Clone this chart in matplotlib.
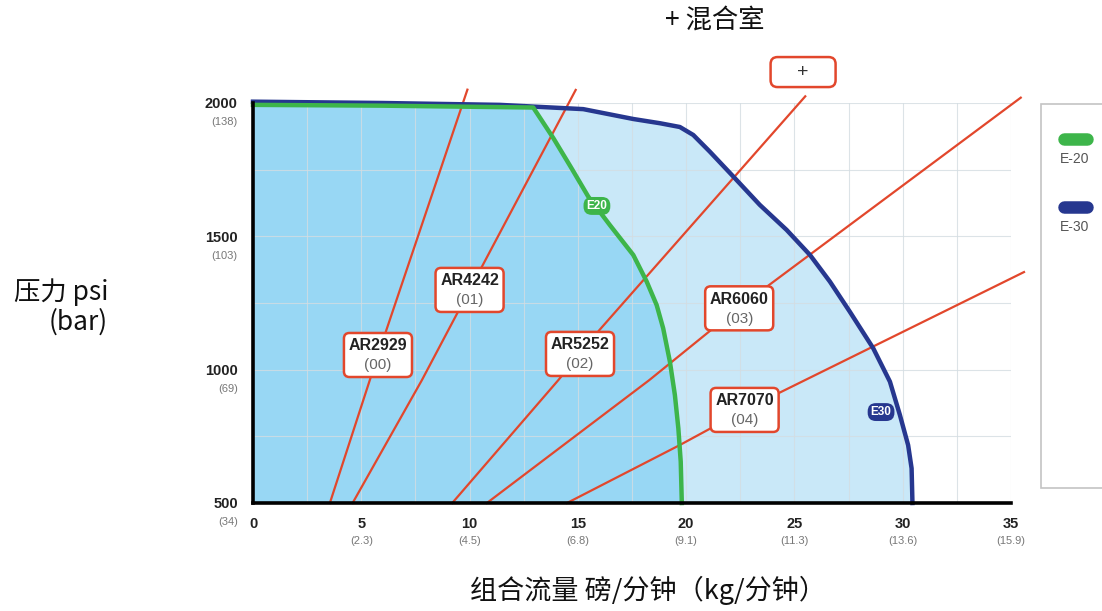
import matplotlib
matplotlib.use("Agg")
import matplotlib.pyplot as plt
import numpy as np
from matplotlib.lines import Line2D
from matplotlib.patches import FancyBboxPatch
import matplotlib.transforms as mtransforms

plt.rcParams['font.family'] = ['Liberation Sans', 'DejaVu Sans']
cjk = ['Noto Sans CJK SC', 'DejaVu Sans']

# pump curves (flow lb/min, pressure psi)
e20_x = [0, 6, 12.94, 13.87, 14.71, 15.48, 16.48, 17.56, 18.18, 18.64, 18.94, 19.25,
         19.48, 19.64, 19.75, 19.8]
e20_y = [1993, 1990, 1983, 1868, 1755, 1649, 1542, 1430, 1330, 1242, 1155, 1030,
         905, 780, 655, 500]
e30_x = [0, 6, 11.4, 15.25, 17.56, 18.8, 19.71, 20.33, 21.1, 22.25, 23.4, 24.64, 25.72,
         26.64, 27.56, 28.64, 29.41, 29.87, 30.25, 30.41, 30.45]
e30_y = [2005, 2000, 1993, 1977, 1940, 1924, 1910, 1880, 1817, 1718, 1618, 1524, 1430,
         1330, 1217, 1080, 955, 830, 717, 630, 500]

# mixing chamber lines
ar2929_x = [3.55, 5.77, 9.9]
ar2929_y = [500, 1055, 2050]
ar4242_x = [4.6, 7.8, 10.0, 14.9]
ar4242_y = [500, 961, 1299, 2049]
ar5252_x = [9.2, 14.1, 16.0, 25.5]
ar5252_y = [500, 961, 1149, 2025]
ar6060_x = [10.8, 18.3, 22.4, 35.45]
ar6060_y = [500, 961, 1231, 2020]
ar7070_x = [14.5, 19.7, 22.7, 35.6]
ar7070_y = [500, 717, 849, 1366]

labels = ['AR2929', 'AR4242', 'AR5252', 'AR6060', 'AR7070']
codes = ['(00)', '(01)', '(02)', '(03)', '(04)']
label_x = [5.77, 10.0, 15.1, 22.45, 22.7]
label_y = [1055, 1299, 1059, 1230, 849]
plus_x, plus_y = 25.4, 2116

xticks = [0, 5, 10, 15, 20, 25, 30, 35]
xticks_kg = ['', '(2.3)', '(4.5)', '(6.8)', '(9.1)', '(11.3)', '(13.6)', '(15.9)']
yticks = [500, 1000, 1500, 2000]
yticks_bar = ['(34)', '(69)', '(103)', '(138)']

green = '#3db54a'
blue = '#26378f'
red = '#e2472c'
dark_fill = '#98d7f4'
light_fill = '#c9e8f8'

fig = plt.figure(figsize=(11.02, 6.11), dpi=100)
ax = fig.add_axes([253 / 1102, 1 - 503 / 611, 758 / 1102, 400 / 611])
ax.set_xlim(0, 35)
ax.set_ylim(500, 2000)

# fills
ax.fill(e30_x + [e30_x[-1], 0], e30_y + [500, 500], color=light_fill, lw=0, zorder=0.5)
ax.fill(e20_x + [e20_x[-1], 0], e20_y + [500, 500], color=dark_fill, lw=0, zorder=0.6)

ax.plot(e30_x, e30_y, color=blue, lw=3.2, clip_on=False, zorder=4, solid_joinstyle='round')
ax.plot(e20_x, e20_y, color=green, lw=3.2, clip_on=False, zorder=4, solid_joinstyle='round')

for lx, ly in [(ar2929_x, ar2929_y), (ar4242_x, ar4242_y), (ar5252_x, ar5252_y),
               (ar6060_x, ar6060_y), (ar7070_x, ar7070_y)]:
    ax.plot(lx, ly, color=red, lw=1.6, clip_on=False, zorder=3)


def box_at(x, y, w, h, r):
    # rounded box sized in points, centred on a data point
    tr = mtransforms.Affine2D().scale(fig.dpi / 72) + mtransforms.ScaledTranslation(x, y, ax.transData)
    p = FancyBboxPatch((-w / 2, -h / 2), w, h, boxstyle='round,pad=0,rounding_size=%g' % r,
                       fc='white', ec=red, lw=1.8, transform=tr, clip_on=False, zorder=5)
    ax.add_patch(p)


for name, code, x, y in zip(labels, codes, label_x, label_y):
    box_at(x, y, 49, 31.7, 4)
    ax.annotate(name, (x, y), xytext=(0, 6.5), textcoords='offset points', ha='center',
                va='center', fontsize=11.5, fontweight='bold', color='#222222', zorder=6)
    ax.annotate(code, (x, y), xytext=(0, -7.5), textcoords='offset points', ha='center',
                va='center', fontsize=11, color='#666666', zorder=6)

box_at(plus_x, plus_y, 46.8, 21.6, 5)
ax.text(plus_x, plus_y, '+', fontsize=14, ha='center', va='center', color='#333333',
        clip_on=False, zorder=6)

# curve tags
ax.text(15.88, 1614, 'E20', fontsize=8.5, fontweight='bold', color='white', ha='center',
        va='center', zorder=6,
        bbox=dict(boxstyle='round,pad=0.25,rounding_size=0.7', fc=green, ec='none'))
ax.text(29.0, 841, 'E30', fontsize=8.5, fontweight='bold', color='white', ha='center',
        va='center', zorder=6,
        bbox=dict(boxstyle='round,pad=0.25,rounding_size=0.7', fc=blue, ec='none'))

# spines, ticks, grid
for s in ['top', 'right']:
    ax.spines[s].set_visible(False)
for s in ['left', 'bottom']:
    ax.spines[s].set_linewidth(2.6)
    ax.spines[s].set_zorder(5)

ax.set_xticks(xticks)
ax.set_xticklabels([str(t) for t in xticks], fontweight='bold', fontsize=10.5, color='#222222')
ax.set_xticks(np.arange(0, 35.1, 2.5), minor=True)
ax.set_yticks(yticks)
ax.set_yticklabels([str(t) for t in yticks], fontweight='bold', fontsize=10.5, color='#222222')
ax.set_yticks(np.arange(500, 2001, 250), minor=True)
ax.grid(True, which='both', color='#d4dde2', lw=0.8, alpha=0.8)
ax.tick_params(axis='x', pad=10, which='both', length=0)
ax.tick_params(axis='y', pad=11, which='both', length=0)

xt = mtransforms.blended_transform_factory(ax.transData, ax.transAxes)
for t, s in zip(xticks, xticks_kg):
    ax.annotate(s, (t, 0), xycoords=xt, xytext=(0, -27.5), textcoords='offset points',
                ha='center', va='center', fontsize=8, color='#777777')
yt = mtransforms.blended_transform_factory(ax.transAxes, ax.transData)
for t, s in zip(yticks, yticks_bar):
    ax.annotate(s, (0, t), xycoords=yt, xytext=(-11, -14), textcoords='offset points',
                ha='right', va='center', fontsize=8, color='#777777')

# legend panel on the right
fig.add_artist(plt.Rectangle((1041 / 1102, 1 - 488 / 611), 0.2, 384 / 611,
                             transform=fig.transFigure, fc='white', ec='#c4c4c4', lw=1.2))
for yy, col, name in [(139, green, 'E-20'), (207, blue, 'E-30')]:
    fig.add_artist(Line2D([1064 / 1102, 1087 / 1102], [1 - yy / 611] * 2, color=col, lw=9,
                          solid_capstyle='round', transform=fig.transFigure))
    fig.text(1075 / 1102, 1 - (yy + 20) / 611, name, ha='center', va='center',
             fontsize=10, color='#555555')

fig.text(715 / 1102, 1 - 21 / 611, '+ 混合室', ha='center', va='center', fontsize=19,
         family=cjk, color='#111111')
fig.text(108 / 1102, 1 - 307 / 611, '压力 psi\n(bar)', ha='right', va='center', fontsize=19,
         family=cjk, multialignment='right', linespacing=1.1, color='#111111')
fig.text(648 / 1102, 1 - 590 / 611, '组合流量 磅/分钟（kg/分钟）', ha='center', va='center',
         fontsize=19.5, family=cjk, color='#111111')

fig.savefig('out.png', dpi=100)
